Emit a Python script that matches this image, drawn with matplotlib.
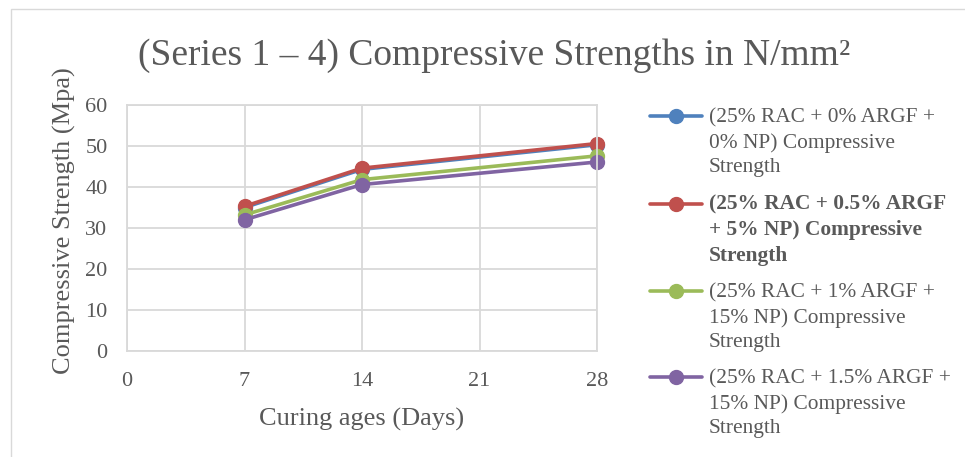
import numpy as np
import matplotlib
matplotlib.use("Agg")
import matplotlib.pyplot as plt
from matplotlib.patches import Rectangle
from matplotlib.legend_handler import HandlerLine2D

# Curing ages (days) and compressive strengths (MPa)
days = [7, 14, 28]
strength_0 = [35.0, 44.3, 50.3]
strength_05 = [35.3, 44.6, 50.6]
strength_1 = [33.2, 41.8, 47.6]
strength_15 = [32.0, 40.6, 46.1]

series_labels = [
    "(25% RAC + 0% ARGF +\n0% NP) Compressive\nStrength",
    "(25% RAC + 0.5% ARGF\n+ 5% NP) Compressive\nStrength",
    "(25% RAC + 1% ARGF +\n15% NP) Compressive\nStrength",
    "(25% RAC + 1.5% ARGF +\n15% NP) Compressive\nStrength",
]
series_values = [strength_0, strength_05, strength_1, strength_15]
series_colors = ["#4F81BD", "#C0504D", "#9BBB59", "#8064A2"]

x_ticks = [0, 7, 14, 21, 28]
y_ticks = [0, 10, 20, 30, 40, 50, 60]

title_text = "(Series 1 \u2013 4) Compressive Strengths in N/mm\u00b2"
x_label = "Curing ages (Days)"
y_label = "Compressive Strength (Mpa)"

TEXT = "#595959"
GRID = "#D9D9D9"
plt.rcParams["font.family"] = ["Liberation Serif", "DejaVu Serif"]

W, H = 965, 457
fig = plt.figure(figsize=(W / 100, H / 100), dpi=100)
fig.patch.set_facecolor("white")

# outer chart frame
fig.add_artist(Rectangle((11 / W, -0.2), 2.0, 1.2 - 9 / H,
                         transform=fig.transFigure, fill=False,
                         ec=GRID, lw=1.0))

ax = fig.add_axes([127 / W, 1 - 351 / H, 470 / W, 246 / H])

for vals, col, lab in zip(series_values, series_colors, series_labels):
    ax.plot(days, vals, color=col, lw=2.6, marker="o", ms=10,
            solid_capstyle="round", label=lab, clip_on=False)

ax.set_xlim(0, 28)
ax.set_ylim(0, 60)
ax.set_xticks(x_ticks)
ax.set_yticks(y_ticks)
ax.grid(True, color=GRID, lw=1.3)
ax.set_axisbelow(True)
for s in ax.spines.values():
    s.set_color(GRID)
    s.set_linewidth(1.3)
ax.tick_params(length=0, labelsize=16, colors=TEXT)
ax.tick_params(axis="x", pad=15)
ax.tick_params(axis="y", pad=14)
for t in ax.get_xticklabels() + ax.get_yticklabels():
    t.set_color(TEXT)

ax.set_xlabel(x_label, fontsize=19, color=TEXT, labelpad=12)
ax.set_ylabel(y_label, fontsize=19, color=TEXT, labelpad=7)
ax.yaxis.label.set_y(0.53)

fig.text(494 / W, 1 - 56 / H, title_text, ha="center", va="center",
         fontsize=27, color=TEXT)


class FirstLineHandler(HandlerLine2D):
    """Place the legend key level with the first text line."""

    def __init__(self, shift, **kw):
        super().__init__(**kw)
        self.shift = shift

    def create_artists(self, legend, orig_handle, xdescent, ydescent,
                       width, height, fontsize, trans):
        arts = super().create_artists(legend, orig_handle, xdescent, ydescent,
                                      width, height, fontsize, trans)
        for a in arts:
            a.set_ydata(np.asarray(a.get_ydata(), dtype=float) + self.shift)
        return arts


handles, labels = ax.get_legend_handles_labels()
handler = FirstLineHandler(shift=18.6)
leg = fig.legend(handles, labels, loc="upper left",
                 bbox_to_anchor=(650 / W, 1 - 108 / H),
                 frameon=False, fontsize=15.4, borderpad=0, borderaxespad=0,
                 handlelength=2.45, handletextpad=0.3, labelspacing=0.78,
                 handler_map={h: handler for h in handles})
for i, t in enumerate(leg.get_texts()):
    t.set_color(TEXT)
    t.set_linespacing(1.4)
    if i == 1:
        t.set_fontweight("bold")

fig.savefig("out.png", dpi=100, facecolor="white")
